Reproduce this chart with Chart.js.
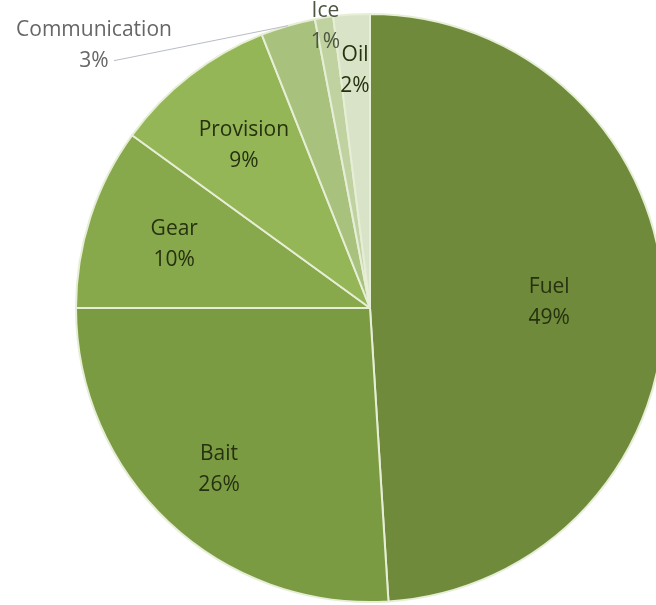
<!DOCTYPE html>
<html>
<head>
<meta charset="utf-8">
<script src="https://cdn.jsdelivr.net/npm/chart.js@4/dist/chart.umd.min.js"></script>
<style>
  html, body { margin: 0; padding: 0; background: #fff; overflow: hidden; }
  #wrap { width: 656px; height: 605px; }
</style>
</head>
<body>
<div id="wrap"><canvas id="costChart" width="656" height="605"></canvas></div>
<script>
// categories + shares (clockwise from 12 o'clock)
const categories = ['Fuel', 'Bait', 'Gear', 'Provision', 'Communication', 'Ice', 'Oil'];
const shares = [49, 26, 10, 9, 3, 1, 2];
const sliceColors = ['#6e8a3a', '#7b9b43', '#87a84b', '#95b656', '#a8c27e', '#bfd2a0', '#d9e3c8'];

// where each label sits: r = fraction of radius along the slice middle,
// dx/dy = nudge in px, leader = draw a line back to the arc
const labelPlacement = {
  Fuel: { r: 0.61 },
  Bait: { r: 0.75 },
  Gear: { r: 0.70 },
  Provision: { r: 0.70 },
  Communication: { r: 1, dx: -194, dy: 19, leader: true, outside: true },
  Ice: { r: 0.97, outside: true },
  Oil: { r: 0.81 }
};

const sliceLabels = {
  id: 'sliceLabels',
  afterDatasetsDraw(chart) {
    const ctx = chart.ctx;
    const meta = chart.getDatasetMeta(0);
    ctx.save();
    ctx.font = '21px "Open Sans"';
    ctx.textAlign = 'center';
    ctx.textBaseline = 'middle';
    meta.data.forEach((arc, i) => {
      const name = categories[i];
      const p = labelPlacement[name] || { r: 0.7 };
      const mid = (arc.startAngle + arc.endAngle) / 2;
      const rad = arc.outerRadius * p.r;
      const ex = arc.x + Math.cos(mid) * arc.outerRadius;
      const ey = arc.y + Math.sin(mid) * arc.outerRadius;
      const lx = arc.x + Math.cos(mid) * rad + (p.dx || 0);
      const ly = arc.y + Math.sin(mid) * rad + (p.dy || 0);
      if (p.leader) {
        ctx.strokeStyle = '#b8bcc4';
        ctx.lineWidth = 1;
        ctx.beginPath();
        ctx.moveTo(lx + 20, ly + 16);
        ctx.lineTo(ex, ey);
        ctx.stroke();
      }
      ctx.fillStyle = p.outside ? '#666666' : '#26310f';
      if (name === 'Ice') ctx.fillStyle = '#4c5640';
      ctx.fillText(name, lx, ly - 15);
      ctx.fillText(shares[i] + '%', lx, ly + 16);
    });
    ctx.restore();
  }
};

new Chart(document.getElementById('costChart'), {
  type: 'pie',
  data: {
    labels: categories,
    datasets: [{
      data: shares,
      backgroundColor: sliceColors,
      borderColor: '#e6eed6',
      borderWidth: 2
    }]
  },
  options: {
    responsive: false,
    animation: false,
    radius: 294,
    layout: { padding: { left: 84, top: 14, bottom: 3, right: 0 } },
    plugins: {
      legend: { display: false },
      tooltip: { enabled: false }
    }
  },
  plugins: [sliceLabels]
});
</script>
</body>
</html>
